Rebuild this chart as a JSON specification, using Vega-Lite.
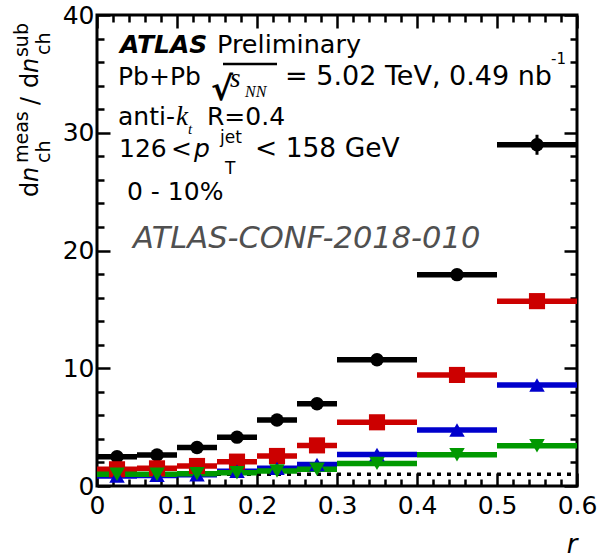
{
  "$schema": "https://vega.github.io/schema/vega-lite/v6.json",
  "width": 480,
  "height": 471,
  "autosize": {"type": "none"},
  "padding": {"left": 97, "top": 15, "right": 29, "bottom": 73},
  "background": "white",
  "config": {
    "view": {"stroke": "black", "strokeWidth": 3},
    "axis": {"grid": false, "domain": false, "tickColor": "black", "tickWidth": 2.5, "labelFont": "DejaVu Sans", "labelFontSize": 25, "labelColor": "black", "titleColor": "black"},
    "text": {"font": "DejaVu Sans", "fontSize": 25, "color": "black", "align": "left", "baseline": "alphabetic"}
  },
  "datasets": {
    "meas": [
      {"series": "black", "r": 0.025, "lo": 0.0, "hi": 0.05, "v": 2.49, "err": 0.08},
      {"series": "black", "r": 0.075, "lo": 0.05, "hi": 0.1, "v": 2.63, "err": 0.08},
      {"series": "black", "r": 0.125, "lo": 0.1, "hi": 0.15, "v": 3.27, "err": 0.1},
      {"series": "black", "r": 0.175, "lo": 0.15, "hi": 0.2, "v": 4.15, "err": 0.12},
      {"series": "black", "r": 0.225, "lo": 0.2, "hi": 0.25, "v": 5.6, "err": 0.15},
      {"series": "black", "r": 0.275, "lo": 0.25, "hi": 0.3, "v": 6.98, "err": 0.2},
      {"series": "black", "r": 0.35, "lo": 0.3, "hi": 0.4, "v": 10.72, "err": 0.25},
      {"series": "black", "r": 0.45, "lo": 0.4, "hi": 0.5, "v": 17.95, "err": 0.35},
      {"series": "black", "r": 0.55, "lo": 0.5, "hi": 0.6, "v": 28.98, "err": 0.85},
      {"series": "red", "r": 0.025, "lo": 0.0, "hi": 0.05, "v": 1.42, "err": 0.05},
      {"series": "red", "r": 0.075, "lo": 0.05, "hi": 0.1, "v": 1.5, "err": 0.05},
      {"series": "red", "r": 0.125, "lo": 0.1, "hi": 0.15, "v": 1.7, "err": 0.05},
      {"series": "red", "r": 0.175, "lo": 0.15, "hi": 0.2, "v": 2.07, "err": 0.06},
      {"series": "red", "r": 0.225, "lo": 0.2, "hi": 0.25, "v": 2.55, "err": 0.08},
      {"series": "red", "r": 0.275, "lo": 0.25, "hi": 0.3, "v": 3.45, "err": 0.1},
      {"series": "red", "r": 0.35, "lo": 0.3, "hi": 0.4, "v": 5.41, "err": 0.15},
      {"series": "red", "r": 0.45, "lo": 0.4, "hi": 0.5, "v": 9.43, "err": 0.2},
      {"series": "red", "r": 0.55, "lo": 0.5, "hi": 0.6, "v": 15.7, "err": 0.3},
      {"series": "blue", "r": 0.025, "lo": 0.0, "hi": 0.05, "v": 0.85, "err": 0.04},
      {"series": "blue", "r": 0.075, "lo": 0.05, "hi": 0.1, "v": 0.9, "err": 0.04},
      {"series": "blue", "r": 0.125, "lo": 0.1, "hi": 0.15, "v": 0.95, "err": 0.04},
      {"series": "blue", "r": 0.175, "lo": 0.15, "hi": 0.2, "v": 1.25, "err": 0.05},
      {"series": "blue", "r": 0.225, "lo": 0.2, "hi": 0.25, "v": 1.5, "err": 0.05},
      {"series": "blue", "r": 0.275, "lo": 0.25, "hi": 0.3, "v": 1.82, "err": 0.06},
      {"series": "blue", "r": 0.35, "lo": 0.3, "hi": 0.4, "v": 2.68, "err": 0.08},
      {"series": "blue", "r": 0.45, "lo": 0.4, "hi": 0.5, "v": 4.76, "err": 0.12},
      {"series": "blue", "r": 0.55, "lo": 0.5, "hi": 0.6, "v": 8.58, "err": 0.2},
      {"series": "green", "r": 0.025, "lo": 0.0, "hi": 0.05, "v": 1.0, "err": 0.03},
      {"series": "green", "r": 0.075, "lo": 0.05, "hi": 0.1, "v": 1.0, "err": 0.03},
      {"series": "green", "r": 0.125, "lo": 0.1, "hi": 0.15, "v": 1.05, "err": 0.03},
      {"series": "green", "r": 0.175, "lo": 0.15, "hi": 0.2, "v": 1.13, "err": 0.04},
      {"series": "green", "r": 0.225, "lo": 0.2, "hi": 0.25, "v": 1.28, "err": 0.04},
      {"series": "green", "r": 0.275, "lo": 0.25, "hi": 0.3, "v": 1.42, "err": 0.05},
      {"series": "green", "r": 0.35, "lo": 0.3, "hi": 0.4, "v": 1.92, "err": 0.06},
      {"series": "green", "r": 0.45, "lo": 0.4, "hi": 0.5, "v": 2.66, "err": 0.08},
      {"series": "green", "r": 0.55, "lo": 0.5, "hi": 0.6, "v": 3.42, "err": 0.1}
    ]
  },
  "resolve": {"axis": {"x": "independent", "y": "independent"}},
  "layer": [
    {
      "data": {"values": [{}]},
      "mark": {"type": "rule", "color": "black", "strokeWidth": 3.5, "strokeDash": [4, 6]},
      "encoding": {
        "x": {"datum": 0, "type": "quantitative", "axis": null},
        "x2": {"datum": 0.6},
        "y": {"datum": 1, "type": "quantitative", "axis": null}
      }
    },
    {
      "data": {"name": "meas"},
      "mark": {"type": "rule", "strokeWidth": 5.5},
      "encoding": {
        "x": {"field": "lo", "type": "quantitative", "scale": {"domain": [0, 0.6], "nice": false, "zero": false},
          "axis": {"orient": "bottom", "values": [0, 0.1, 0.2, 0.3, 0.4, 0.5, 0.6], "format": "~g", "tickSize": -13, "labelPadding": 20, "labelFlush": false,
            "title": "r", "titleFont": "DejaVu Sans", "titleFontStyle": "italic", "titleFontWeight": "normal", "titleFontSize": 26, "titleAnchor": "end", "titlePadding": 13}},
        "x2": {"field": "hi"},
        "y": {"field": "v", "type": "quantitative", "scale": {"domain": [0, 40], "nice": false},
          "axis": {"orient": "left", "values": [0, 10, 20, 30, 40], "tickSize": -13, "labelPadding": 16, "labelFlush": false, "title": null}},
        "color": {"field": "series", "type": "nominal", "scale": {"domain": ["black", "red", "blue", "green"], "range": ["#000000", "#cc0000", "#0000cc", "#009900"]}, "legend": null}
      }
    },
    {
      "data": {"name": "meas"},
      "mark": {"type": "errorbar", "ticks": false, "thickness": 3},
      "encoding": {
        "x": {"field": "r", "type": "quantitative", "axis": null},
        "y": {"field": "v", "type": "quantitative", "axis": null},
        "yError": {"field": "err"},
        "color": {"field": "series", "type": "nominal", "legend": null}
      }
    },
    {
      "data": {"name": "meas"},
      "transform": [{"filter": "datum.series === 'black'"}],
      "mark": {"type": "point", "shape": "circle", "filled": true, "opacity": 1, "size": 180, "color": "#000000"},
      "encoding": {
        "x": {"field": "r", "type": "quantitative", "axis": {"orient": "top", "values": [0, 0.1, 0.2, 0.3, 0.4, 0.5, 0.6], "tickSize": -13, "labels": false, "title": null}},
        "y": {"field": "v", "type": "quantitative", "axis": {"orient": "right", "values": [0, 10, 20, 30, 40], "tickSize": -13, "labels": false, "title": null}}
      }
    },
    {
      "data": {"name": "meas"},
      "transform": [{"filter": "datum.series === 'red'"}],
      "mark": {"type": "point", "shape": "square", "filled": true, "opacity": 1, "size": 260, "color": "#cc0000"},
      "encoding": {
        "x": {"field": "r", "type": "quantitative", "axis": {"orient": "bottom", "values": [0.02, 0.04, 0.06, 0.08, 0.12, 0.14, 0.16, 0.18, 0.22, 0.24, 0.26, 0.28, 0.32, 0.34, 0.36, 0.38, 0.42, 0.44, 0.46, 0.48, 0.52, 0.54, 0.56, 0.58], "tickSize": -7, "labels": false, "title": null}},
        "y": {"field": "v", "type": "quantitative", "axis": {"orient": "left", "values": [2, 4, 6, 8, 12, 14, 16, 18, 22, 24, 26, 28, 32, 34, 36, 38], "tickSize": -7, "labels": false, "title": null}}
      }
    },
    {
      "data": {"name": "meas"},
      "transform": [{"filter": "datum.series === 'blue'"}],
      "mark": {"type": "point", "shape": "triangle-up", "filled": true, "opacity": 1, "size": 240, "color": "#0000cc"},
      "encoding": {
        "x": {"field": "r", "type": "quantitative", "axis": {"orient": "top", "values": [0.02, 0.04, 0.06, 0.08, 0.12, 0.14, 0.16, 0.18, 0.22, 0.24, 0.26, 0.28, 0.32, 0.34, 0.36, 0.38, 0.42, 0.44, 0.46, 0.48, 0.52, 0.54, 0.56, 0.58], "tickSize": -7, "labels": false, "title": null}},
        "y": {"field": "v", "type": "quantitative", "axis": {"orient": "right", "values": [2, 4, 6, 8, 12, 14, 16, 18, 22, 24, 26, 28, 32, 34, 36, 38], "tickSize": -7, "labels": false, "title": null}}
      }
    },
    {
      "data": {"name": "meas"},
      "transform": [{"filter": "datum.series === 'green'"}],
      "mark": {"type": "point", "shape": "triangle-down", "filled": true, "opacity": 1, "size": 240, "color": "#009900"},
      "encoding": {
        "x": {"field": "r", "type": "quantitative", "axis": null},
        "y": {"field": "v", "type": "quantitative", "axis": null}
      }
    },
    {"data": {"values": [{}]}, "mark": {"type": "text", "text": "ATLAS", "fontWeight": "bold", "fontStyle": "italic"},
      "encoding": {"x": {"datum": 0.02875, "type": "quantitative", "axis": null}, "y": {"datum": 36.77, "type": "quantitative", "axis": null}}},
    {"data": {"values": [{}]}, "mark": {"type": "text", "text": "Preliminary", "fontSize": 25.5},
      "encoding": {"x": {"datum": 0.15, "type": "quantitative", "axis": null}, "y": {"datum": 36.77, "type": "quantitative", "axis": null}}},
    {"data": {"values": [{}]}, "mark": {"type": "text", "text": "Pb+Pb"},
      "encoding": {"x": {"datum": 0.02625, "type": "quantitative", "axis": null}, "y": {"datum": 34.06, "type": "quantitative", "axis": null}}},
    {"data": {"values": [{}]}, "mark": {"type": "text", "text": "√", "fontSize": 33, "fontWeight": "bold"},
      "encoding": {"x": {"datum": 0.1425, "type": "quantitative", "axis": null}, "y": {"datum": 32.75, "type": "quantitative", "axis": null}}},
    {"data": {"values": [{}]}, "mark": {"type": "rule", "strokeWidth": 2.5, "color": "black"},
      "encoding": {"x": {"datum": 0.1575, "type": "quantitative", "axis": null}, "x2": {"datum": 0.225}, "y": {"datum": 35.84, "type": "quantitative", "axis": null}}},
    {"data": {"values": [{}]}, "mark": {"type": "text", "text": "s", "font": "Liberation Serif", "fontStyle": "italic", "fontSize": 27},
      "encoding": {"x": {"datum": 0.16625, "type": "quantitative", "axis": null}, "y": {"datum": 33.89, "type": "quantitative", "axis": null}}},
    {"data": {"values": [{}]}, "mark": {"type": "text", "text": "NN", "font": "Liberation Serif", "fontStyle": "italic", "fontSize": 16},
      "encoding": {"x": {"datum": 0.185, "type": "quantitative", "axis": null}, "y": {"datum": 33.04, "type": "quantitative", "axis": null}}},
    {"data": {"values": [{}]}, "mark": {"type": "text", "text": "= 5.02 TeV, 0.49 nb", "fontSize": 27},
      "encoding": {"x": {"datum": 0.235, "type": "quantitative", "axis": null}, "y": {"datum": 34.06, "type": "quantitative", "axis": null}}},
    {"data": {"values": [{}]}, "mark": {"type": "text", "text": "-1", "fontSize": 15},
      "encoding": {"x": {"datum": 0.5675, "type": "quantitative", "axis": null}, "y": {"datum": 35.84, "type": "quantitative", "axis": null}}},
    {"data": {"values": [{}]}, "mark": {"type": "text", "text": "anti-"},
      "encoding": {"x": {"datum": 0.02625, "type": "quantitative", "axis": null}, "y": {"datum": 30.66, "type": "quantitative", "axis": null}}},
    {"data": {"values": [{}]}, "mark": {"type": "text", "text": "k", "font": "Liberation Serif", "fontStyle": "italic", "fontSize": 27},
      "encoding": {"x": {"datum": 0.09875, "type": "quantitative", "axis": null}, "y": {"datum": 30.66, "type": "quantitative", "axis": null}}},
    {"data": {"values": [{}]}, "mark": {"type": "text", "text": "t", "font": "Liberation Serif", "fontStyle": "italic", "fontSize": 15},
      "encoding": {"x": {"datum": 0.11375, "type": "quantitative", "axis": null}, "y": {"datum": 29.89, "type": "quantitative", "axis": null}}},
    {"data": {"values": [{}]}, "mark": {"type": "text", "text": "R=0.4"},
      "encoding": {"x": {"datum": 0.1375, "type": "quantitative", "axis": null}, "y": {"datum": 30.66, "type": "quantitative", "axis": null}}},
    {"data": {"values": [{}]}, "mark": {"type": "text", "text": "126"},
      "encoding": {"x": {"datum": 0.0275, "type": "quantitative", "axis": null}, "y": {"datum": 27.94, "type": "quantitative", "axis": null}}},
    {"data": {"values": [{}]}, "mark": {"type": "text", "text": "<"},
      "encoding": {"x": {"datum": 0.0925, "type": "quantitative", "axis": null}, "y": {"datum": 27.94, "type": "quantitative", "axis": null}}},
    {"data": {"values": [{}]}, "mark": {"type": "text", "text": "p", "fontStyle": "italic"},
      "encoding": {"x": {"datum": 0.12125, "type": "quantitative", "axis": null}, "y": {"datum": 27.94, "type": "quantitative", "axis": null}}},
    {"data": {"values": [{}]}, "mark": {"type": "text", "text": "jet", "fontSize": 17},
      "encoding": {"x": {"datum": 0.15375, "type": "quantitative", "axis": null}, "y": {"datum": 29.13, "type": "quantitative", "axis": null}}},
    {"data": {"values": [{}]}, "mark": {"type": "text", "text": "T", "fontSize": 17},
      "encoding": {"x": {"datum": 0.16, "type": "quantitative", "axis": null}, "y": {"datum": 26.5, "type": "quantitative", "axis": null}}},
    {"data": {"values": [{}]}, "mark": {"type": "text", "text": "< 158 GeV", "fontSize": 26.5},
      "encoding": {"x": {"datum": 0.1975, "type": "quantitative", "axis": null}, "y": {"datum": 27.94, "type": "quantitative", "axis": null}}},
    {"data": {"values": [{}]}, "mark": {"type": "text", "text": "0 - 10%"},
      "encoding": {"x": {"datum": 0.0375, "type": "quantitative", "axis": null}, "y": {"datum": 24.29, "type": "quantitative", "axis": null}}},
    {"data": {"values": [{}]}, "mark": {"type": "text", "text": "ATLAS-CONF-2018-010", "fontStyle": "italic", "fontSize": 30.5, "color": "#505050"},
      "encoding": {"x": {"datum": 0.045, "type": "quantitative", "axis": null}, "y": {"datum": 20.21, "type": "quantitative", "axis": null}}},
    {"data": {"values": [{}]}, "mark": {"type": "text", "text": "d", "angle": 270, "fontSize": 24},
      "encoding": {"x": {"datum": -0.07375, "type": "quantitative", "axis": null}, "y": {"datum": 24.54, "type": "quantitative", "axis": null}}},
    {"data": {"values": [{}]}, "mark": {"type": "text", "text": "n", "angle": 270, "fontSize": 24, "fontStyle": "italic"},
      "encoding": {"x": {"datum": -0.07375, "type": "quantitative", "axis": null}, "y": {"datum": 25.81, "type": "quantitative", "axis": null}}},
    {"data": {"values": [{}]}, "mark": {"type": "text", "text": "meas", "angle": 270, "fontSize": 19},
      "encoding": {"x": {"datum": -0.08625, "type": "quantitative", "axis": null}, "y": {"datum": 27.43, "type": "quantitative", "axis": null}}},
    {"data": {"values": [{}]}, "mark": {"type": "text", "text": "ch", "angle": 270, "fontSize": 19},
      "encoding": {"x": {"datum": -0.05875, "type": "quantitative", "axis": null}, "y": {"datum": 27.43, "type": "quantitative", "axis": null}}},
    {"data": {"values": [{}]}, "mark": {"type": "text", "text": "/", "angle": 270, "fontSize": 24},
      "encoding": {"x": {"datum": -0.07375, "type": "quantitative", "axis": null}, "y": {"datum": 32.36, "type": "quantitative", "axis": null}}},
    {"data": {"values": [{}]}, "mark": {"type": "text", "text": "d", "angle": 270, "fontSize": 24},
      "encoding": {"x": {"datum": -0.07375, "type": "quantitative", "axis": null}, "y": {"datum": 33.8, "type": "quantitative", "axis": null}}},
    {"data": {"values": [{}]}, "mark": {"type": "text", "text": "n", "angle": 270, "fontSize": 24, "fontStyle": "italic"},
      "encoding": {"x": {"datum": -0.07375, "type": "quantitative", "axis": null}, "y": {"datum": 35.07, "type": "quantitative", "axis": null}}},
    {"data": {"values": [{}]}, "mark": {"type": "text", "text": "sub", "angle": 270, "fontSize": 19},
      "encoding": {"x": {"datum": -0.08625, "type": "quantitative", "axis": null}, "y": {"datum": 36.43, "type": "quantitative", "axis": null}}},
    {"data": {"values": [{}]}, "mark": {"type": "text", "text": "ch", "angle": 270, "fontSize": 19},
      "encoding": {"x": {"datum": -0.05875, "type": "quantitative", "axis": null}, "y": {"datum": 36.6, "type": "quantitative", "axis": null}}}
  ]
}
